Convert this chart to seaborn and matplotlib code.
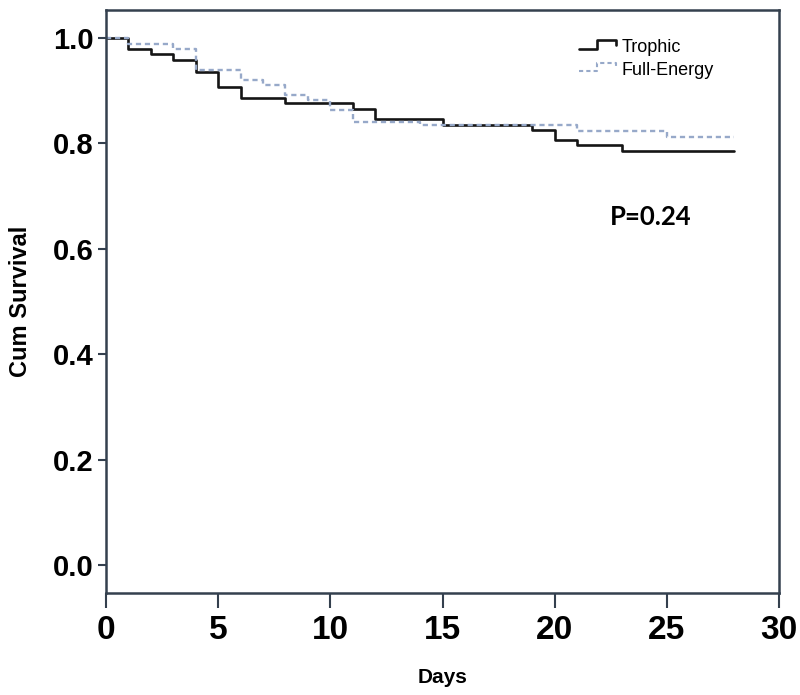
import pandas as pd
import numpy as np
import matplotlib
matplotlib.use('Agg')
import matplotlib.pyplot as plt
import seaborn as sns
from matplotlib.lines import Line2D
from matplotlib.legend_handler import HandlerLine2D

# Kaplan-Meier step values
trophic_days = [0, 1, 2, 3, 4, 5, 6, 8, 11, 12, 15, 19, 20, 21, 23, 28]
trophic_surv = [1.0, 0.979, 0.969, 0.958, 0.936, 0.906, 0.887, 0.876, 0.865,
                0.846, 0.835, 0.826, 0.807, 0.796, 0.785, 0.785]
full_days = [0, 1, 3, 4, 6, 7, 8, 9, 10, 11, 14, 21, 25, 28]
full_surv = [1.0, 0.989, 0.979, 0.939, 0.920, 0.911, 0.892, 0.882, 0.863,
             0.840, 0.835, 0.824, 0.813, 0.813]
groups = ['Trophic', 'Full-Energy']
x_ticks = [0, 5, 10, 15, 20, 25, 30]
y_ticks = [0.0, 0.2, 0.4, 0.6, 0.8, 1.0]
p_text = 'P=0.24'

df = pd.concat([
    pd.DataFrame({'Days': trophic_days, 'Survival': trophic_surv, 'Group': groups[0]}),
    pd.DataFrame({'Days': full_days, 'Survival': full_surv, 'Group': groups[1]}),
])

sns.set_style('ticks')
plt.rcParams['font.family'] = ['Liberation Sans', 'DejaVu Sans']
plt.rcParams['text.color'] = 'black'
plt.rcParams['axes.labelcolor'] = 'black'
plt.rcParams['xtick.color'] = 'black'
plt.rcParams['ytick.color'] = 'black'

frame_col = '#34404e'
palette = {'Trophic': '#151515', 'Full-Energy': '#97a9c9'}
narrow = ['Liberation Sans Narrow', 'Liberation Sans']

fig = plt.figure(figsize=(8, 6.95), dpi=100)
ax = fig.add_axes([0.1325, 0.1468, 0.8413, 0.8388])

for g in groups:
    sub = df[df['Group'] == g]
    sns.lineplot(data=sub, x='Days', y='Survival', ax=ax, estimator=None,
                 drawstyle='steps-post', color=palette[g],
                 linewidth=1.9 if g == 'Trophic' else 1.7,
                 linestyle='-' if g == 'Trophic' else (0, (2.2, 1.6)),
                 legend=False)

ax.set_xlim(0, 30)
ax.set_ylim(-0.053, 1.053)
ax.set_xticks(x_ticks)
ax.set_yticks(y_ticks)
ax.set_xticklabels([str(t) for t in x_ticks], fontsize=24, fontweight='bold',
                   family=narrow)
ax.set_yticklabels([f'{t:.1f}' for t in y_ticks], fontsize=21, fontweight='bold')
ax.tick_params(axis='x', length=11, width=1.5, color=frame_col, pad=5)
ax.tick_params(axis='y', length=6, width=1.5, color=frame_col, pad=3)
for s in ax.spines.values():
    s.set_visible(True)
    s.set_color(frame_col)
    s.set_linewidth(1.8)

ax.set_xlabel('Days', fontsize=15, fontweight='bold', labelpad=16, family=narrow)
ax.set_ylabel('Cum Survival', fontsize=17, fontweight='bold', labelpad=15, family=narrow)

ax.text(24.3, 0.66, p_text, fontsize=18.5, fontweight='bold', family='Lato',
        ha='center', va='center')


class StepHandler(HandlerLine2D):
    def create_artists(self, legend, orig_handle, xdescent, ydescent,
                       width, height, fontsize, trans):
        lo = height * 0.3 - ydescent
        hi = height * 0.95 - ydescent
        xs = [-xdescent, width * 0.45, width * 0.45, width * 0.92, width * 0.92]
        ys = [lo, lo, hi, hi, height * 0.55 - ydescent]
        ln = Line2D(xs, ys)
        self.update_prop(ln, orig_handle, legend)
        ln.set_transform(trans)
        return [ln]


handles = [Line2D([], [], color=palette['Trophic'], linewidth=1.9),
           Line2D([], [], color=palette['Full-Energy'], linewidth=1.5,
                  linestyle=(0, (2, 1.5)))]
ax.legend(handles, groups, loc='upper left', bbox_to_anchor=(0.69, 0.965),
          frameon=False, fontsize=13, handlelength=2.2, handletextpad=0.15,
          labelspacing=0.3, borderpad=0,
          handler_map={Line2D: StepHandler()})

fig.savefig('out.png', dpi=100, facecolor='white')
